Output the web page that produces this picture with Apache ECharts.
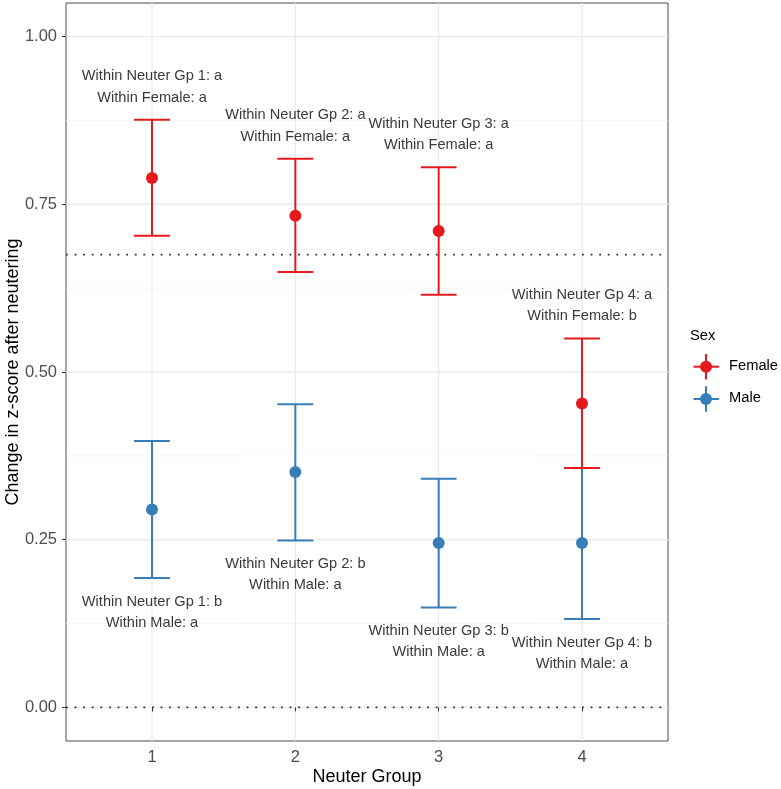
<!DOCTYPE html>
<html>
<head>
<meta charset="utf-8">
<script src="https://cdn.jsdelivr.net/npm/echarts@6/dist/echarts.min.js"></script>
<style>
html,body{margin:0;padding:0;background:#fff;}
#chart{width:781px;height:789px;}
</style>
</head>
<body>
<div id="chart"></div>
<script>
// ---- data ----
const groups = [1, 2, 3, 4];
const femaleMean  = [0.789, 0.733, 0.710, 0.453];
const femaleLower = [0.703, 0.649, 0.615, 0.357];
const femaleUpper = [0.876, 0.818, 0.805, 0.550];
const maleMean  = [0.295, 0.351, 0.245, 0.245];
const maleLower = [0.193, 0.249, 0.149, 0.132];
const maleUpper = [0.397, 0.452, 0.341, 0.357];
const femaleLabels = [
  'Within Neuter Gp 1: a\nWithin Female: a',
  'Within Neuter Gp 2: a\nWithin Female: a',
  'Within Neuter Gp 3: a\nWithin Female: a',
  'Within Neuter Gp 4: a\nWithin Female: b'
];
const maleLabels = [
  'Within Neuter Gp 1: b\nWithin Male: a',
  'Within Neuter Gp 2: b\nWithin Male: a',
  'Within Neuter Gp 3: b\nWithin Male: a',
  'Within Neuter Gp 4: b\nWithin Male: a'
];
const refLines = [0.675, 0];
const yTicks = [0, 0.25, 0.5, 0.75, 1];
const yMinor = [0.125, 0.375, 0.625, 0.875];
const xTicks = [1, 2, 3, 4];
const seriesNames = ['Female', 'Male'];

// ---- style ----
const RED = '#E41A1C', BLUE = '#377EB8';
const FONT = "'Liberation Sans', Arial, sans-serif";

const chart = echarts.init(document.getElementById('chart'), null, {renderer: 'canvas'});

function errData(lo, hi) { return groups.map((g, i) => [g, lo[i], hi[i]]); }
function ptData(m) { return groups.map((g, i) => [g, m[i]]); }
function lblData(v, labels) { return groups.map((g, i) => [g, v[i], labels[i]]); }

function errRender(color) {
  return function (params, api) {
    const x = api.value(0), lo = api.value(1), hi = api.value(2);
    const pLo = api.coord([x, lo]), pHi = api.coord([x, hi]);
    const hw = api.size([0.125, 0])[0];
    const st = {stroke: color, lineWidth: 2, fill: null};
    return {type: 'group', children: [
      {type: 'line', shape: {x1: pLo[0], y1: pLo[1], x2: pHi[0], y2: pHi[1]}, style: st},
      {type: 'line', shape: {x1: pHi[0] - hw, y1: pHi[1], x2: pHi[0] + hw, y2: pHi[1]}, style: st},
      {type: 'line', shape: {x1: pLo[0] - hw, y1: pLo[1], x2: pLo[0] + hw, y2: pLo[1]}, style: st}
    ]};
  };
}

function labelRender(above) {
  return function (params, api) {
    const x = api.value(0), y = api.value(1);
    const p = api.coord([x, y]);
    const txt = (above ? femaleLabels : maleLabels)[params.dataIndex];
    return {
      type: 'text',
      style: {
        text: txt, x: p[0], y: above ? p[1] - 11.5 : p[1] + 13,
        align: 'center', verticalAlign: above ? 'bottom' : 'top',
        fontSize: 14.6, lineHeight: 21.3, fontFamily: FONT, fill: '#3a3a3a'
      }
    };
  };
}

// horizontal / vertical full-panel lines, positioned through the axes
function hLineRender(style) {
  return function (params, api) {
    const cs = params.coordSys;
    const y = api.coord([1, api.value(0)])[1];
    return {type: 'line', shape: {x1: cs.x, y1: y, x2: cs.x + cs.width, y2: y}, style: style};
  };
}
function vLineRender(style) {
  return function (params, api) {
    const cs = params.coordSys;
    const x = api.coord([api.value(0), 0])[0];
    return {type: 'line', shape: {x1: x, y1: cs.y, x2: x, y2: cs.y + cs.height}, style: style};
  };
}

const option = {
  backgroundColor: '#ffffff',
  animation: false,
  textStyle: {fontFamily: FONT},
  grid: {left: 66, right: 113, top: 3, bottom: 48, outerBoundsMode: 'none', containLabel: false,
    show: true, borderColor: '#4d4d4d', borderWidth: 1, backgroundColor: 'transparent'},
  xAxis: {
    type: 'value', min: 0.4, max: 4.6,
    axisLine: {show: false},
    axisTick: {show: true, customValues: xTicks, length: 4, lineStyle: {color: '#333', width: 1}},
    axisLabel: {customValues: xTicks, fontSize: 16.5, color: '#4D4D4D', margin: 8, fontFamily: FONT},
    splitLine: {show: false},
    name: 'Neuter Group', nameLocation: 'middle', nameGap: 27, nameMoveOverlap: false,
    nameTextStyle: {fontSize: 18, color: '#000', fontFamily: FONT}
  },
  yAxis: {
    type: 'value', min: -0.05, max: 1.05,
    axisLine: {show: false},
    axisTick: {show: true, customValues: yTicks, length: 4, lineStyle: {color: '#333', width: 1}},
    axisLabel: {customValues: yTicks, fontSize: 16.5, color: '#4D4D4D', margin: 9, fontFamily: FONT,
      formatter: v => v.toFixed(2)},
    splitLine: {show: false},
    name: 'Change in z-score after neutering', nameLocation: 'middle', nameGap: 44, nameMoveOverlap: false,
    nameTextStyle: {fontSize: 18, color: '#000', fontFamily: FONT}
  },
  series: [
    {type: 'custom', name: '_minorY', silent: true, z: 0, data: yMinor.map(v => [v]), encode: {y: 0},
      renderItem: hLineRender({stroke: '#F3F3F3', lineWidth: 0.8})},
    {type: 'custom', name: '_majorY', silent: true, z: 0, data: yTicks.map(v => [v]), encode: {y: 0},
      renderItem: hLineRender({stroke: '#EBEBEB', lineWidth: 1.3})},
    {type: 'custom', name: '_majorX', silent: true, z: 0, data: xTicks.map(v => [v]), encode: {x: 0},
      renderItem: vLineRender({stroke: '#EBEBEB', lineWidth: 1.3})},
    {type: 'custom', name: '_ref', silent: true, z: 1, data: refLines.map(v => [v]), encode: {y: 0},
      renderItem: hLineRender({stroke: '#333', lineWidth: 1.8, lineDash: [1.8, 6.8]})},
    {type: 'custom', name: seriesNames[1], renderItem: errRender(BLUE), data: errData(maleLower, maleUpper), encode: {x: 0, y: [1, 2]}, z: 2},
    {type: 'custom', name: seriesNames[0], renderItem: errRender(RED), data: errData(femaleLower, femaleUpper), encode: {x: 0, y: [1, 2]}, z: 2},
    {type: 'scatter', name: seriesNames[1], data: ptData(maleMean), symbolSize: 12, itemStyle: {color: BLUE, opacity: 1}, z: 3},
    {type: 'scatter', name: seriesNames[0], data: ptData(femaleMean), symbolSize: 12, itemStyle: {color: RED, opacity: 1}, z: 3},
    {type: 'custom', name: 'femaleLbl', renderItem: labelRender(true), data: lblData(femaleUpper, femaleLabels), encode: {x: 0, y: 1}, z: 4, silent: true},
    {type: 'custom', name: 'maleLbl', renderItem: labelRender(false), data: lblData(maleLower, maleLabels), encode: {x: 0, y: 1}, z: 4, silent: true}
  ],
  graphic: [
    {type: 'text', left: 690, top: 328, style: {text: 'Sex', fontSize: 14.7, fontFamily: FONT, fill: '#000'}},
    // Female key
    {type: 'line', shape: {x1: 693.5, y1: 366.7, x2: 719, y2: 366.7}, style: {stroke: RED, lineWidth: 2}},
    {type: 'line', shape: {x1: 706, y1: 354, x2: 706, y2: 379.5}, style: {stroke: RED, lineWidth: 2}},
    {type: 'circle', shape: {cx: 706, cy: 366.7, r: 6}, style: {fill: RED}},
    {type: 'text', left: 729, top: 358.5, style: {text: seriesNames[0], fontSize: 14.7, fontFamily: FONT, fill: '#000'}},
    // Male key
    {type: 'line', shape: {x1: 693.5, y1: 399, x2: 719, y2: 399}, style: {stroke: BLUE, lineWidth: 2}},
    {type: 'line', shape: {x1: 706, y1: 386.3, x2: 706, y2: 411.8}, style: {stroke: BLUE, lineWidth: 2}},
    {type: 'circle', shape: {cx: 706, cy: 399, r: 6}, style: {fill: BLUE}},
    {type: 'text', left: 729, top: 390.8, style: {text: seriesNames[1], fontSize: 14.7, fontFamily: FONT, fill: '#000'}}
  ]
};
chart.setOption(option);
</script>
</body>
</html>
